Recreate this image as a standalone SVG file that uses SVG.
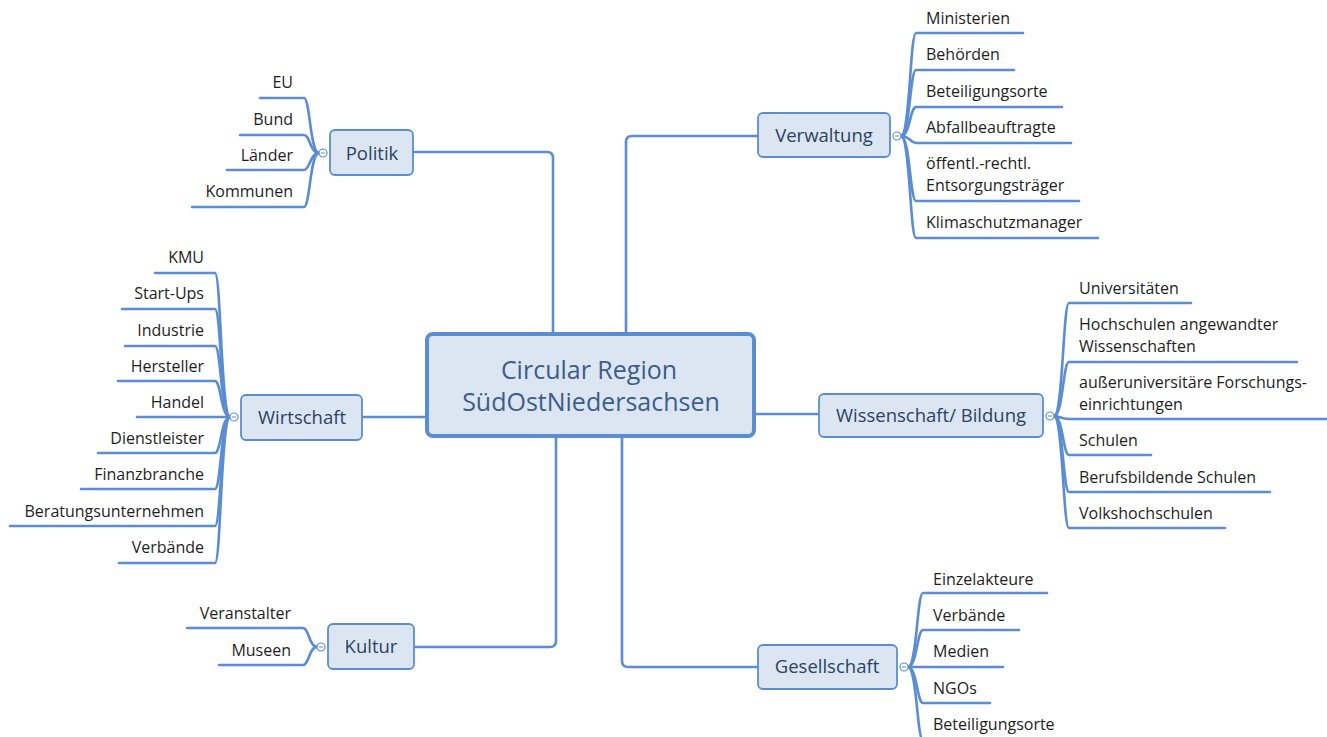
<svg xmlns="http://www.w3.org/2000/svg" width="1327" height="737" viewBox="0 0 1327 737">
<style>
.ln{fill:none;stroke:#5b8dd3;stroke-width:2.6;stroke-linecap:round;stroke-linejoin:round}
.box{fill:#dce6f2;stroke:#5b8dd3;stroke-width:1.8}
.main{fill:#dce6f2;stroke:#5b8dd3;stroke-width:4}
.nt{font-family:"Open Sans","Liberation Sans",sans-serif;font-size:18.5px;fill:#2b4263;text-anchor:middle}
.ct{font-family:"Open Sans","Liberation Sans",sans-serif;font-size:25px;fill:#3d5d8a;text-anchor:middle}
.l{font-family:"Open Sans","Liberation Sans",sans-serif;font-size:16px;fill:#1e1e1e}
.r{text-anchor:end}
.ex{fill:#fff;stroke:#5b8dd3;stroke-width:1.2}
.exm{stroke:#5b8dd3;stroke-width:1}
</style>
<rect width="1327" height="737" fill="#fff"/>
<g id="connectors">
<path class="ln" d="M413 152 L547 152 Q553 152 553 158 L553 334"/>
<path class="ln" d="M758 136 L632 136 Q626 136 626 142 L626 334"/>
<path class="ln" d="M414 647 L550 647 Q556 647 556 641 L556 436"/>
<path class="ln" d="M758 667 L628 667 Q622 667 622 661 L622 436"/>
<path class="ln" d="M362 417 L427 417"/>
<path class="ln" d="M754 414 L819 414"/>
<path class="ln" d="M319 153 C310 153 310 98 304 98 L260 98"/>
<path class="ln" d="M319 153 C310 153 310 135 304 135 L240 135"/>
<path class="ln" d="M319 153 C310 153 310 170 304 170 L227 170"/>
<path class="ln" d="M319 153 C310 153 310 207 304 207 L192 207"/>
<path class="ln" d="M901 136 C910 136 910 33 916 33 L1023 33"/>
<path class="ln" d="M901 136 C910 136 910 70 916 70 L1014 70"/>
<path class="ln" d="M901 136 C910 136 910 107 916 107 L1062 107"/>
<path class="ln" d="M901 136 C910 136 910 143 916 143 L1071 143"/>
<path class="ln" d="M901 136 C910 136 910 201 916 201 L1079 201"/>
<path class="ln" d="M901 136 C910 136 910 238 916 238 L1098 238"/>
<path class="ln" d="M230 417 C221 417 221 273 215 273 L155 273"/>
<path class="ln" d="M230 417 C221 417 221 309 215 309 L122 309"/>
<path class="ln" d="M230 417 C221 417 221 346 215 346 L125 346"/>
<path class="ln" d="M230 417 C221 417 221 381 215 381 L118 381"/>
<path class="ln" d="M230 417 L137 417"/>
<path class="ln" d="M230 417 C221 417 221 453 215 453 L98 453"/>
<path class="ln" d="M230 417 C221 417 221 489 215 489 L81 489"/>
<path class="ln" d="M230 417 C221 417 221 526 215 526 L10 526"/>
<path class="ln" d="M230 417 C221 417 221 563 215 563 L119 563"/>
<path class="ln" d="M1054 416 C1063 416 1063 303 1069 303 L1191 303"/>
<path class="ln" d="M1054 416 C1063 416 1063 362 1069 362 L1297 362"/>
<path class="ln" d="M1054 416 C1060 416 1060 419 1069 419 L1327 419"/>
<path class="ln" d="M1054 416 C1063 416 1063 455 1069 455 L1151 455"/>
<path class="ln" d="M1054 416 C1063 416 1063 492 1069 492 L1270 492"/>
<path class="ln" d="M1054 416 C1063 416 1063 528 1069 528 L1225 528"/>
<path class="ln" d="M317 647 C309 647 309 628 303 628 L187 628"/>
<path class="ln" d="M317 647 C309 647 309 665 303 665 L219 665"/>
<path class="ln" d="M908 667 C917 667 917 593 923 593 L1047 593"/>
<path class="ln" d="M908 667 C917 667 917 630 923 630 L1019 630"/>
<path class="ln" d="M908 667 L1003 667"/>
<path class="ln" d="M908 667 C917 667 917 703 923 703 L990 703"/>
<path class="ln" d="M908 667 C917 667 917 740 923 740 L1070 740"/>
</g>
<g id="center">
<rect class="main" x="427" y="334" width="327" height="102" rx="6"/>
<text class="ct" x="589" y="379">Circular Region</text>
<text class="ct" x="591" y="411">SüdOstNiedersachsen</text>
</g>
<g id="politik">
<rect class="box" x="330" y="130" width="83" height="45" rx="5"/>
<text class="nt" x="372" y="160">Politik</text>
<circle class="ex" cx="323" cy="153" r="4"/><line class="exm" x1="321" y1="153" x2="325" y2="153"/>
<text class="l r" x="293" y="88">EU</text>
<text class="l r" x="293" y="125">Bund</text>
<text class="l r" x="293" y="161">Länder</text>
<text class="l r" x="293" y="197">Kommunen</text>
</g>
<g id="verwaltung">
<rect class="box" x="758" y="113" width="132" height="44" rx="5"/>
<text class="nt" x="824" y="142">Verwaltung</text>
<circle class="ex" cx="897" cy="136" r="4"/><line class="exm" x1="895" y1="136" x2="899" y2="136"/>
<text class="l" x="926" y="24">Ministerien</text>
<text class="l" x="926" y="60">Behörden</text>
<text class="l" x="926" y="97">Beteiligungsorte</text>
<text class="l" x="926" y="133">Abfallbeauftragte</text>
<text class="l" x="926" y="169">öffentl.-rechtl.</text>
<text class="l" x="926" y="191">Entsorgungsträger</text>
<text class="l" x="926" y="228">Klimaschutzmanager</text>
</g>
<g id="wirtschaft">
<rect class="box" x="241" y="395" width="121" height="45" rx="5"/>
<text class="nt" x="302" y="424">Wirtschaft</text>
<circle class="ex" cx="234" cy="417" r="4"/><line class="exm" x1="232" y1="417" x2="236" y2="417"/>
<text class="l r" x="204" y="263">KMU</text>
<text class="l r" x="204" y="299">Start-Ups</text>
<text class="l r" x="204" y="336">Industrie</text>
<text class="l r" x="204" y="372">Hersteller</text>
<text class="l r" x="204" y="408">Handel</text>
<text class="l r" x="204" y="444">Dienstleister</text>
<text class="l r" x="204" y="480">Finanzbranche</text>
<text class="l r" x="204" y="517">Beratungsunternehmen</text>
<text class="l r" x="204" y="553">Verbände</text>
</g>
<g id="wissenschaft">
<rect class="box" x="819" y="394" width="224" height="43" rx="5"/>
<text class="nt" x="931" y="422">Wissenschaft/ Bildung</text>
<circle class="ex" cx="1050" cy="416" r="4"/><line class="exm" x1="1048" y1="416" x2="1052" y2="416"/>
<text class="l" x="1079" y="294">Universitäten</text>
<text class="l" x="1079" y="330">Hochschulen angewandter</text>
<text class="l" x="1079" y="352">Wissenschaften</text>
<text class="l" x="1079" y="388">außeruniversitäre Forschungs-</text>
<text class="l" x="1079" y="410">einrichtungen</text>
<text class="l" x="1079" y="446">Schulen</text>
<text class="l" x="1079" y="483">Berufsbildende Schulen</text>
<text class="l" x="1079" y="519">Volkshochschulen</text>
</g>
<g id="kultur">
<rect class="box" x="328" y="624" width="86" height="45" rx="5"/>
<text class="nt" x="371" y="653">Kultur</text>
<circle class="ex" cx="321" cy="647" r="4"/><line class="exm" x1="319" y1="647" x2="323" y2="647"/>
<text class="l r" x="291" y="619">Veranstalter</text>
<text class="l r" x="291" y="656">Museen</text>
</g>
<g id="gesellschaft">
<rect class="box" x="758" y="645" width="139" height="44" rx="5"/>
<text class="nt" x="827" y="673">Gesellschaft</text>
<circle class="ex" cx="904" cy="667" r="4"/><line class="exm" x1="902" y1="667" x2="906" y2="667"/>
<text class="l" x="933" y="585">Einzelakteure</text>
<text class="l" x="933" y="621">Verbände</text>
<text class="l" x="933" y="657">Medien</text>
<text class="l" x="933" y="694">NGOs</text>
<text class="l" x="933" y="730">Beteiligungsorte</text>
</g>
</svg>
